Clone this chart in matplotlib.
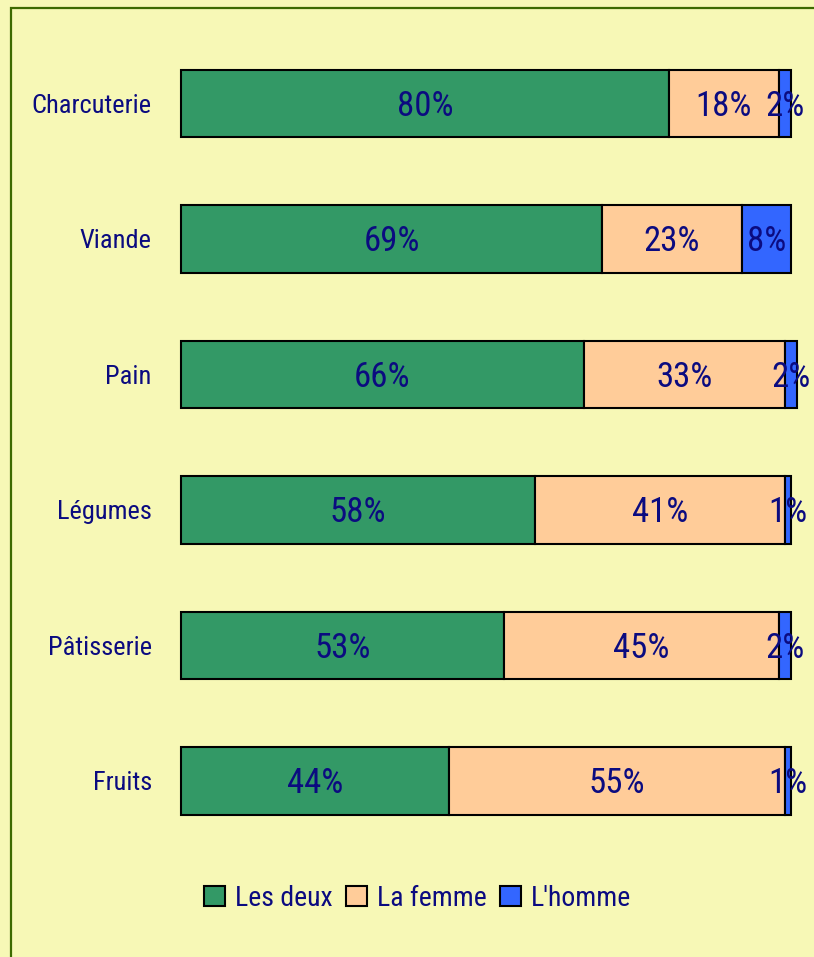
import os
import matplotlib
matplotlib.use("Agg")
import matplotlib.pyplot as plt
from matplotlib import font_manager as fm
from matplotlib.patches import Rectangle, Patch

categories = ["Charcuterie", "Viande", "Pain", "Légumes", "Pâtisserie", "Fruits"]
les_deux = [80, 69, 66, 58, 53, 44]
la_femme = [18, 23, 33, 41, 45, 55]
l_homme = [2, 8, 2, 1, 2, 1]
series_names = ["Les deux", "La femme", "L'homme"]

COLORS = ["#339966", "#FFCC99", "#3366FF"]
BG = "#F7F8B6"
TEXT = "#0B0B80"


# the reference uses a narrow font; take the narrowest one installed
def pick_font():
    prefs = ["LiberationSansNarrow-Regular", "RobotoCondensed-Regular",
             "DejaVuSansCondensed.ttf", "OpenSans_Condensed-Regular",
             "OpenSansCondensed"]
    files = [f.fname for f in fm.fontManager.ttflist]
    for p in prefs:
        for f in files:
            if p in os.path.basename(f):
                return f
    for f in files:
        b = os.path.basename(f)
        if ("Condensed" in b or "Narrow" in b) and "Bold" not in b \
                and "Italic" not in b and "Oblique" not in b:
            return f
    return None


fpath = pick_font()
if fpath:
    fm.fontManager.addfont(fpath)
    fam = fm.FontProperties(fname=fpath).get_name()
    plt.rcParams['font.family'] = [fam, 'DejaVu Sans']
    plt.rcParams['font.stretch'] = 'condensed'
    FS, FS_TICK, FS_BAR = 20, 19, 25
else:
    plt.rcParams['font.family'] = ['DejaVu Sans']
    FS, FS_TICK, FS_BAR = 17, 16, 20

W, H = 814, 957
fig = plt.figure(figsize=(W / 100, H / 100), dpi=100)
fig.patch.set_facecolor(BG)

# outer frame, cut off at right and bottom
fig.patches.append(Rectangle((10.5 / W, -0.1), 1.2, 1.1 - 7.5 / H,
                             transform=fig.transFigure, fill=False,
                             edgecolor="#3D6A00", linewidth=1.6))

ax = fig.add_axes([181 / W, 1 - 848.75 / H, 610 / W, 813 / H])
ax.patch.set_alpha(0)

ypos = list(range(len(categories)))
left = [0] * len(categories)
for vals, col in zip([les_deux, la_femme, l_homme], COLORS):
    bars = ax.barh(ypos, vals, left=left, height=0.5, color=col,
                   edgecolor="black", linewidth=1.5, clip_on=False)
    for b, v, l in zip(bars, vals, left):
        ax.text(l + v / 2, b.get_y() + b.get_height() / 2 + 0.02, f"{v}%",
                ha="center", va="center", color=TEXT, fontsize=FS_BAR,
                clip_on=False)
    left = [a + b for a, b in zip(left, vals)]

ax.set_xlim(0, 100)
ax.set_ylim(5.5, -0.5)
ax.set_yticks(ypos)
ax.set_yticklabels(categories, fontsize=FS_TICK, color=TEXT)
ax.set_xticks([])
ax.tick_params(axis="y", length=0, pad=21)
for s in ax.spines.values():
    s.set_visible(False)

handles = [Patch(facecolor=c, edgecolor="black", linewidth=1.5) for c in COLORS]
fig.legend(handles, series_names, loc="center",
           bbox_to_anchor=(417.5 / W, 1 - 898 / H), ncol=3, frameon=False,
           fontsize=FS, labelcolor=TEXT, handlelength=0.75, handleheight=0.75,
           handletextpad=0.35, columnspacing=0.5)

fig.savefig("out.png", dpi=100, facecolor=BG)
